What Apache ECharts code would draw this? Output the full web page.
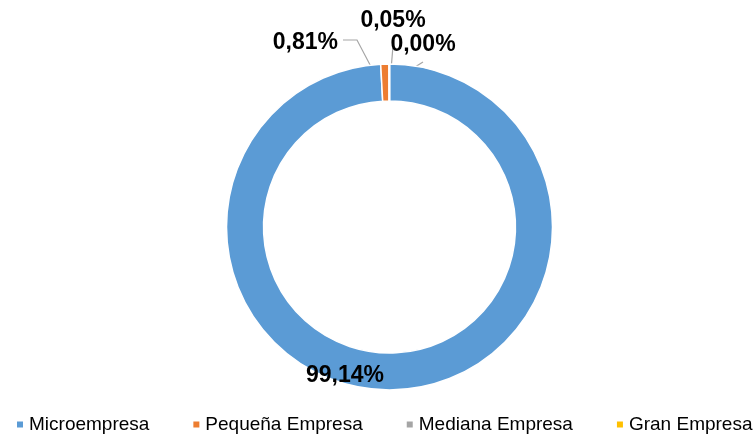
<!DOCTYPE html>
<html>
<head>
<meta charset="utf-8">
<script src="https://cdn.jsdelivr.net/npm/echarts@6/dist/echarts.min.js"></script>
<style>
  html, body { margin: 0; padding: 0; background: #fff; }
  #main { width: 756px; height: 434px; }
</style>
</head>
<body>
<div id="main"></div>
<script>
// empresas por tamaño (%)
const categories = ['Microempresa', 'Pequeña Empresa', 'Mediana Empresa', 'Gran Empresa'];
const shares = [99.14, 0.81, 0.05, 0.00];

const colors = ['#5b9bd5', '#ed7d31', '#a5a5a5', '#ffc000'];
const font = "'Liberation Sans', Arial, sans-serif";

// where Excel put the labels (x, y, align) and their leader lines
const labelSpots = [
  { x: 345, y: 376, align: 'center' },
  { x: 338, y: 43, align: 'right', line: [[378, 80], [357, 40], [343, 40]] },
  { x: 393, y: 21, align: 'center', line: [[390, 82], [393, 46]] },
  { x: 423, y: 45, align: 'center', line: [[391, 82], [423, 62]] }
];

const fmt = v => v.toFixed(2).replace('.', ',') + '%';

const myChart = echarts.init(document.getElementById('main'));
const option = {
  color: colors,
  animation: false,
  legend: {
    data: categories,
    left: 10,
    top: 410,
    width: 1200,
    icon: 'rect',
    itemWidth: 8,
    itemHeight: 8,
    itemGap: 42,
    textStyle: { fontFamily: font, fontSize: 19, color: '#000' }
  },
  series: [
    {
      type: 'pie',
      center: [389.5, 227],
      radius: [126, 163],
      startAngle: 90,
      clockwise: true,
      avoidLabelOverlap: false,
      itemStyle: { borderColor: '#fff', borderWidth: 1.5 },
      label: {
        show: true,
        position: 'outside',
        formatter: p => fmt(p.value),
        fontFamily: font,
        fontWeight: 'bold',
        fontSize: 23,
        color: '#000'
      },
      labelLine: {
        show: true,
        lineStyle: { color: '#a6a6a6', width: 1.2 }
      },
      labelLayout: function (params) {
        const s = labelSpots[params.dataIndex];
        const out = { x: s.x, y: s.y, align: s.align, verticalAlign: 'middle' };
        if (s.line) out.labelLinePoints = s.line;
        return out;
      },
      data: categories.map((name, i) => ({
        name: name,
        value: shares[i],
        labelLine: { show: i > 0 }
      }))
    }
  ]
};
myChart.setOption(option);
</script>
</body>
</html>
